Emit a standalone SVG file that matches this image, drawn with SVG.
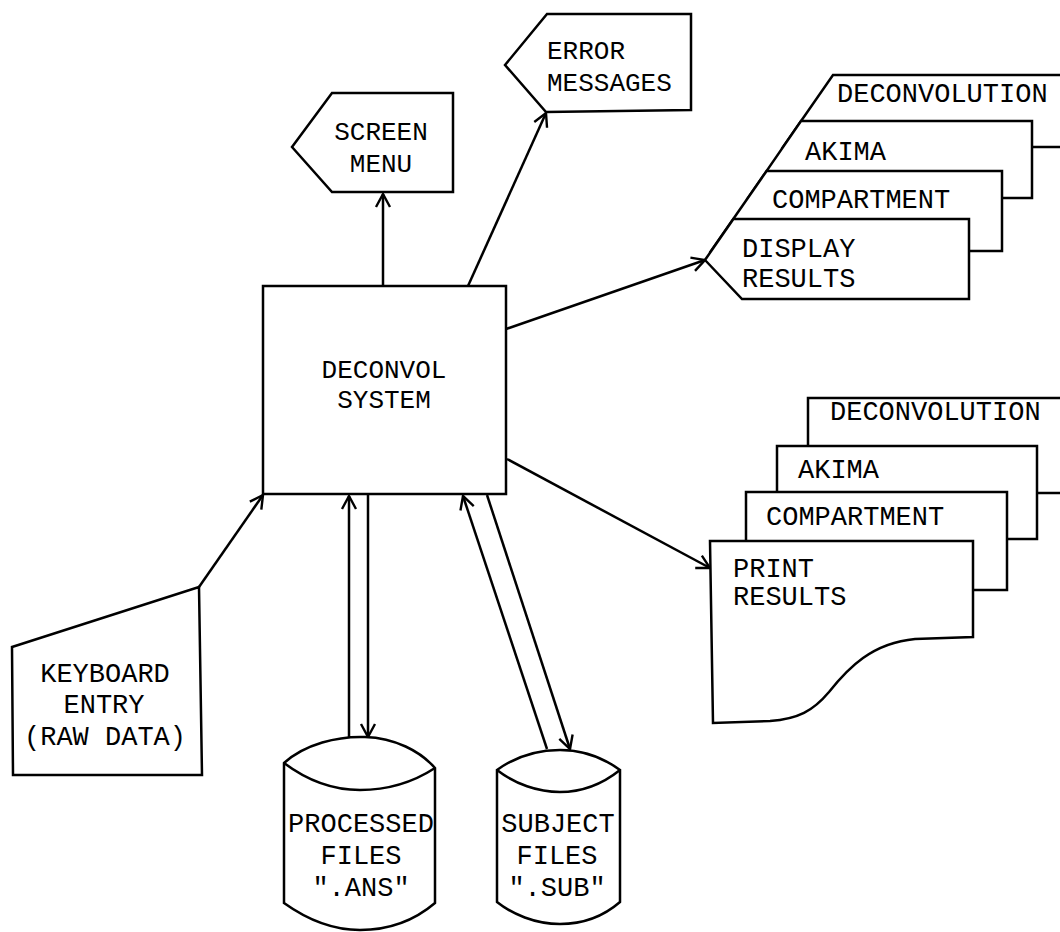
<svg xmlns="http://www.w3.org/2000/svg" width="1060" height="932" viewBox="0 0 1060 932">
  <style>
    .shape { fill: #fff; stroke: #000; stroke-width: 2.5; stroke-linejoin: miter; }
    .line { fill: none; stroke: #000; stroke-width: 2.5; }
    .arrow { fill: none; stroke: #000; stroke-width: 2.5; marker-end: url(#head); }
    .lbl { font-family: "Liberation Mono", "DejaVu Sans Mono", monospace; font-size: 26px; fill: #000; }
    .mono { font-family: "Liberation Mono", "DejaVu Sans Mono", monospace; font-size: 27px; fill: #000; }
    .mid { text-anchor: middle; }
  </style>
  <defs>
    <!-- open stick arrowhead -->
    <marker id="head" viewBox="-16 -10 20 20" refX="0" refY="0" markerWidth="20" markerHeight="20" markerUnits="userSpaceOnUse" orient="auto">
      <path d="M-13,-7 L0,0 L-13,7" fill="none" stroke="#000" stroke-width="2.4"/>
    </marker>
  </defs>
  <rect width="1060" height="932" fill="#fff"/>

  <!-- connectors -->
  <g id="connectors">
    <line class="arrow" x1="383" y1="286" x2="383" y2="194"/>
    <line class="arrow" x1="468" y1="286" x2="546" y2="113"/>
    <line class="arrow" x1="506" y1="329" x2="705" y2="260"/>
    <line class="arrow" x1="507" y1="459" x2="710" y2="568"/>
    <line class="arrow" x1="199" y1="587" x2="263" y2="495"/>
    <line class="arrow" x1="349" y1="737" x2="349" y2="496"/>
    <line class="arrow" x1="368" y1="495" x2="368" y2="737"/>
    <line class="arrow" x1="547" y1="749" x2="463" y2="496"/>
    <line class="arrow" x1="487" y1="495" x2="570" y2="749"/>
  </g>

  <!-- central process -->
  <g id="deconvol-system">
    <rect class="shape" x="263" y="286" width="243" height="208"/>
    <text class="lbl mid" x="384" y="378">DECONVOL</text>
    <text class="lbl mid" x="384" y="408">SYSTEM</text>
  </g>

  <!-- display outputs -->
  <g id="screen-menu">
    <polygon class="shape" points="292,147 332,93 453,93 453,192 332,192"/>
    <text class="lbl mid" x="381" y="140">SCREEN</text>
    <text class="lbl mid" x="381" y="172">MENU</text>
  </g>

  <g id="error-messages">
    <polygon class="shape" points="505,65 547,14 691,14 691,110 546,112"/>
    <text class="lbl" x="547" y="59">ERROR</text>
    <text class="lbl" x="547" y="91">MESSAGES</text>
  </g>

  <g id="display-results">
    <polygon class="shape" points="833,75 1070,75 1070,147 783,147"/>
    <polygon class="shape" points="801,121 1032,121 1032,198 748,198"/>
    <polygon class="shape" points="766.6,171 1002,171 1002,251 711,251"/>
    <polygon class="shape" points="733.4,219 969,219 969,299 742,299 705,260"/>
    <text class="mono" x="837" y="102">DECONVOLUTION</text>
    <text class="mono" x="805" y="160">AKIMA</text>
    <text class="mono" x="772" y="208">COMPARTMENT</text>
    <text class="mono" x="742" y="257">DISPLAY</text>
    <text class="mono" x="742" y="287">RESULTS</text>
  </g>

  <!-- printed outputs -->
  <g id="print-results">
    <rect class="shape" x="808" y="398" width="262" height="95"/>
    <rect class="shape" x="777" y="446" width="260" height="93"/>
    <rect class="shape" x="746" y="492" width="261" height="98"/>
    <path class="shape" d="M710,541 L973,541 L973,637 L915,639 C872,643 848,668 829,692 C813,711 798,719 770,721 L713,723 Z"/>
    <text class="mono" x="830" y="420">DECONVOLUTION</text>
    <text class="mono" x="798" y="478">AKIMA</text>
    <text class="mono" x="766" y="525">COMPARTMENT</text>
    <text class="mono" x="733" y="577">PRINT</text>
    <text class="mono" x="733" y="605">RESULTS</text>
  </g>

  <!-- manual input -->
  <g id="keyboard-entry">
    <polygon class="shape" points="12,647 199,587 202,775 13,775"/>
    <text class="mono mid" x="105" y="682">KEYBOARD</text>
    <text class="mono mid" x="104" y="713">ENTRY</text>
    <text class="mono mid" x="105" y="745">(RAW DATA)</text>
  </g>

  <!-- disk stores -->
  <g id="processed-files">
    <path class="shape" d="M284,763 C305,744 338,736 365,737 C395,738 420,751 435,768 L435,903 C415,920 390,930 360,930 C330,930 305,918 284,903 Z"/>
    <path class="line" d="M284,763 C308,781 335,790 360,790 C390,790 415,781 435,768"/>
    <text class="mono mid" x="361" y="832">PROCESSED</text>
    <text class="mono mid" x="361" y="864">FILES</text>
    <text class="mono mid" x="361" y="896">".ANS"</text>
  </g>

  <g id="subject-files">
    <path class="shape" d="M497,770 C515,757 538,750 560,750 C585,750 605,759 620,770 L620,902 C605,915 585,924 560,924 C535,924 512,914 497,902 Z"/>
    <path class="line" d="M497,770 C515,784 538,792 560,792 C585,792 605,782 620,770"/>
    <text class="mono mid" x="558" y="832">SUBJECT</text>
    <text class="mono mid" x="557" y="864">FILES</text>
    <text class="mono mid" x="557" y="896">".SUB"</text>
  </g>
</svg>
